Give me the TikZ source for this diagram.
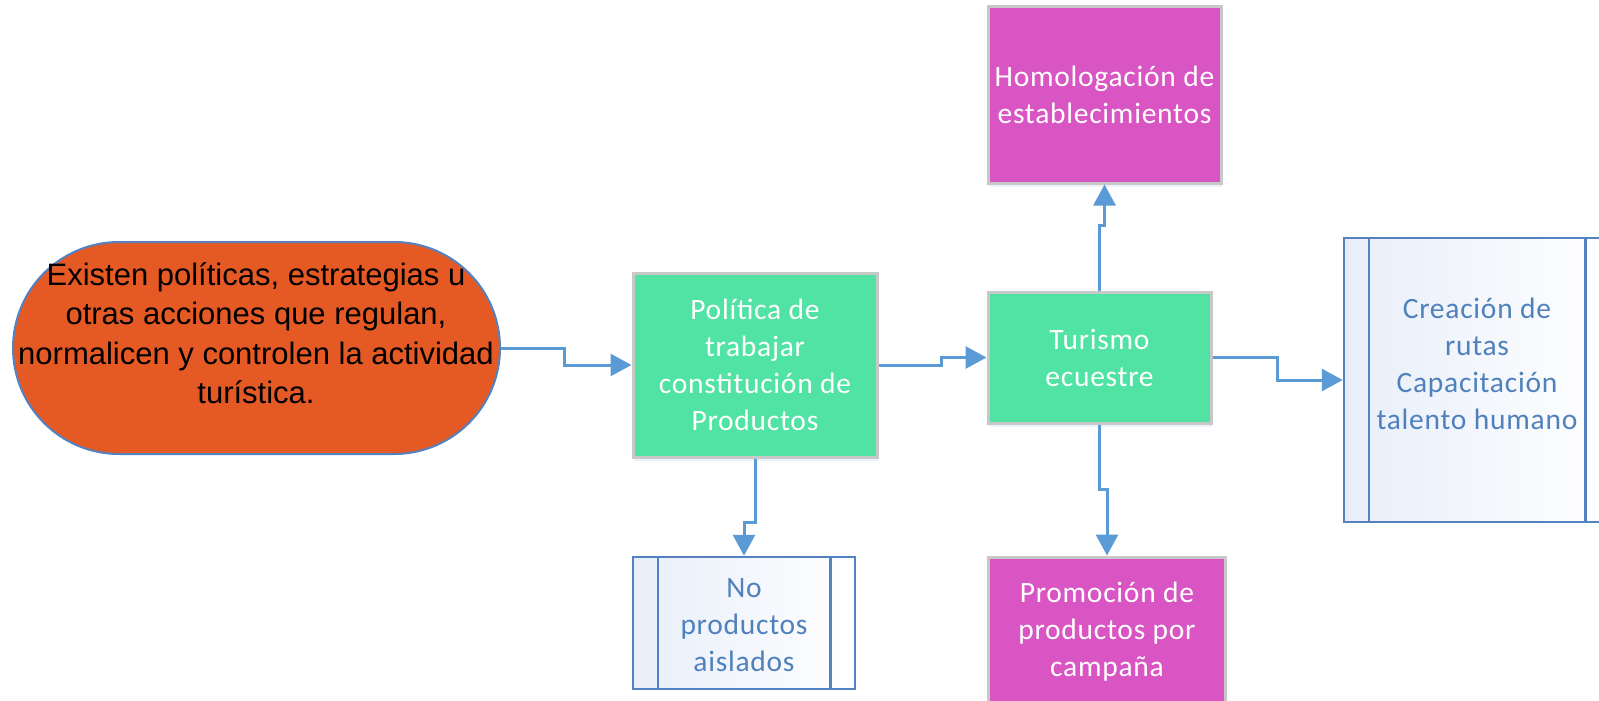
\documentclass[tikz,border=0pt]{standalone}
\usepackage{fontspec}
\setmainfont{Carlito}[LetterSpace=2.5]
\newfontfamily\arialf{Liberation Sans}
\usetikzlibrary{arrows.meta,shadows}
\definecolor{orng}{RGB}{229,89,37}
\definecolor{grn}{RGB}{80,227,164}
\definecolor{mgn}{RGB}{218,85,196}
\definecolor{arrc}{RGB}{91,155,213}
\definecolor{pblue}{RGB}{84,130,192}
\definecolor{ptxt}{RGB}{79,129,189}
\definecolor{gbord}{RGB}{200,200,200}
\definecolor{plight}{RGB}{232,238,249}
\begin{document}
\begin{tikzpicture}[x=1pt,y=-1pt,
  boxfont/.style={font=\fontsize{29.5}{37}\selectfont, align=center},
  stad/.style={draw=pblue, line width=2pt, fill=orng, rounded corners=106pt,
    minimum width=487pt, minimum height=212pt, inner sep=0pt},
  stadtxt/.style={font=\arialf\fontsize{31}{39.5}\selectfont, align=center, text=black, inner sep=0pt},
  gbox/.style={draw=gbord, line width=3pt, fill=grn, inner sep=0pt, boxfont, text=white,
    drop shadow={shadow xshift=1pt, shadow yshift=-4pt, fill=arrc!40, opacity=0.3}},
  mbox/.style={gbox, fill=mgn},
  pbox/.style={draw=pblue, line width=2.5pt, shading=axis, shading angle=45,
    left color=plight, right color=white, inner sep=0pt},
  ptext/.style={boxfont, text=ptxt, inner sep=0pt},
  pline/.style={draw=pblue, line width=2.5pt},
  arr/.style={draw=arrc, line width=3pt, -{Triangle[length=21pt,width=22pt]}}
]
\useasboundingbox (0,0) rectangle (1599,701);
\clip (0,0) rectangle (1599,701);
\fill[white] (0,0) rectangle (1599,701);

% start terminator
\node[stad] (stad) at (256.5,348) {};
\node[stadtxt] (stadt) at (256,333) {Existen políticas, estrategias u\\otras acciones que regulan,\\normalicen y controlen la actividad\\turística.};

% process boxes
\node[gbox, minimum width=244pt, minimum height=184pt] (g1) at (755,365)
  {Política de\\trabajar\\constitución de\\Productos};
\node[gbox, minimum width=223pt, minimum height=131pt] (g2) at (1099.5,357.5)
  {Turismo\\ecuestre};
\node[mbox, minimum width=233pt, minimum height=176pt] (h) at (1104.5,95)
  {Homologación de\\establecimientos};
\node[mbox, minimum width=237pt, minimum height=150pt] (pm) at (1107,632)
  {Promoción de\\productos por\\campaña};

% predefined processes
\node[pbox, minimum width=266pt, minimum height=284pt] (rp) at (1477,380) {};
\draw[pline] ([xshift=26pt]rp.north west) -- ([xshift=26pt]rp.south west);
\draw[pline] ([xshift=-26pt]rp.north east) -- ([xshift=-26pt]rp.south east);
\node[ptext] (rpt) at (1477,364) {Creación de\\rutas\\Capacitación\\talento humano};

\node[pbox, minimum width=222pt, minimum height=132pt] (bp) at (744,623) {};
\draw[pline] ([xshift=26pt]bp.north west) -- ([xshift=26pt]bp.south west);
\draw[pline] ([xshift=-26pt]bp.north east) -- ([xshift=-26pt]bp.south east);
\node[ptext] (bpt) at (744,625) {No\\productos\\aislados};

% connectors
\draw[arr] (stad.east) -- ++(63,0) |- (g1.west);
\draw[arr] (g1.east) -- ++(63,0) |- (g2.west);
\draw[arr] (g2.north) -- ++(0,-65) -| (h.south);
\draw[arr] (g2.east) -- ++(65,0) |- (rp.west);
\draw[arr] (g2.south) -- ++(0,65) -| (pm.north);
\draw[arr] (g1.south) -- ++(0,64) -| (bp.north);
\end{tikzpicture}
\end{document}
